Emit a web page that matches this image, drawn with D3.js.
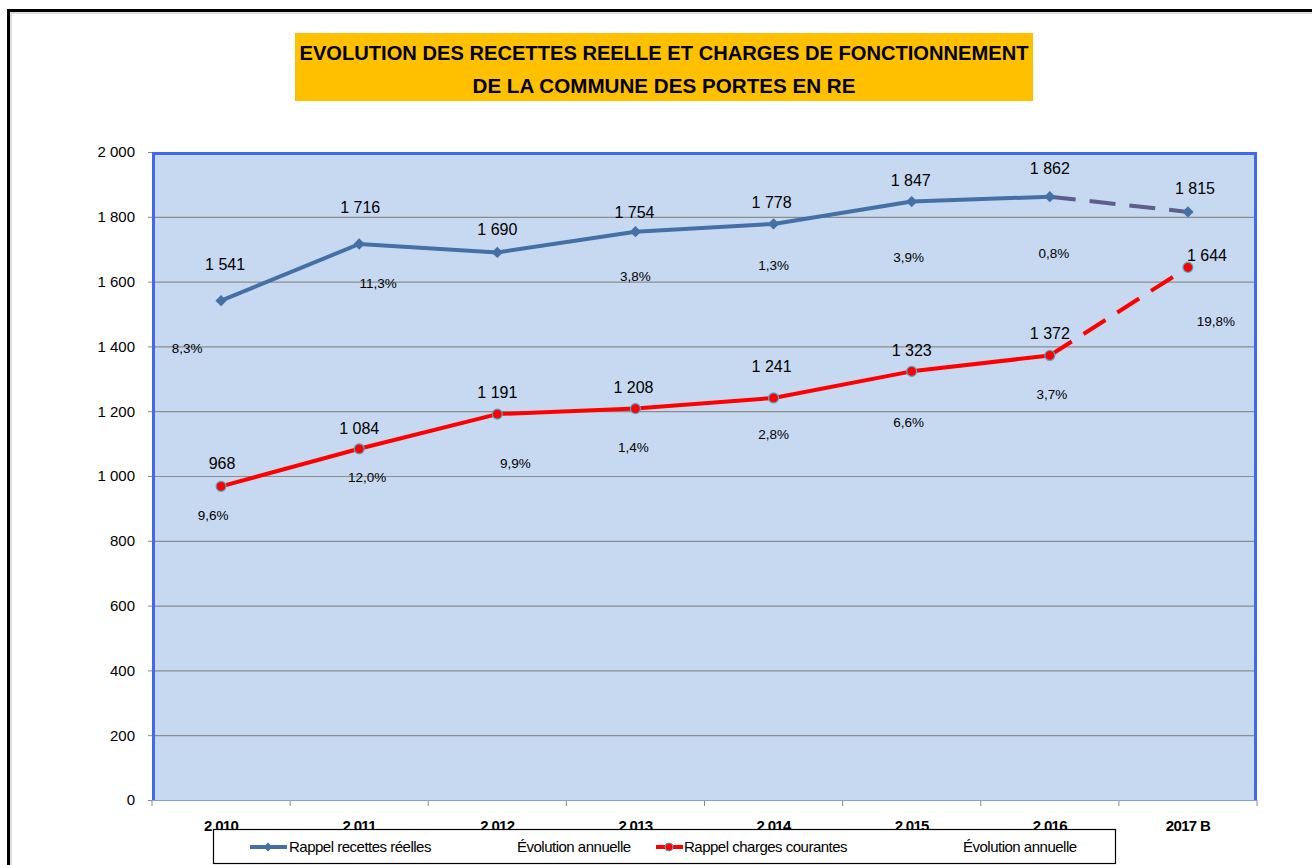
<!DOCTYPE html>
<html><head><meta charset="utf-8">
<script src="https://cdn.jsdelivr.net/npm/d3@7"></script>
<style>body{margin:0;background:#fff}svg{display:block}</style>
</head><body>
<script>
const categories = ["2 010","2 011","2 012","2 013","2 014","2 015","2 016","2017 B"];
const recettes = [1541,1716,1690,1754,1778,1847,1862,1815];
const charges = [968,1084,1191,1208,1241,1323,1372,1644];
const recettesEvol = ["8,3%","11,3%","","3,8%","1,3%","3,9%","0,8%",""];
const chargesEvol = ["9,6%","12,0%","9,9%","1,4%","2,8%","6,6%","3,7%","19,8%"];
// hidden placement values (data units) of the "Évolution annuelle" labels
const recettesEvolPos = [1395,1596,null,1617,1651,1676,1688,null];
const chargesEvolPos = [880,997,1040,1090,1130,1167,1253,1478];
const yTicks = [0,200,400,600,800,1000,1200,1400,1600,1800,2000];
const titleLines = ["EVOLUTION DES RECETTES REELLE ET CHARGES DE FONCTIONNEMENT","DE LA COMMUNE DES PORTES EN RE"];
const legendItems = ["Rappel recettes réelles","Évolution annuelle","Rappel charges courantes","Évolution annuelle"];

const W=1312,H=865;
const svg=d3.select("body").append("svg").attr("width",W).attr("height",H)
  .attr("font-family","'Liberation Sans',Arial,sans-serif");
// outer frame
svg.append("rect").attr("x",8.5).attr("y",10.5).attr("width",1400).attr("height",1000).attr("fill","none").attr("stroke","#000").attr("stroke-width",3);
svg.append("rect").attr("x",11).attr("y",13).attr("width",1400).attr("height",1000).attr("fill","none").attr("stroke","#bbb").attr("stroke-width",1);

// title
svg.append("rect").attr("x",295).attr("y",33).attr("width",738).attr("height",68).attr("fill","#FFC000");
const tl=[{t:titleLines[0],y:60,w:729},{t:titleLines[1],y:93,w:383}];
tl.forEach(d=>svg.append("text").attr("x",664).attr("y",d.y).attr("text-anchor","middle")
  .attr("font-weight","bold").attr("font-size",21).attr("textLength",d.w).attr("lengthAdjust","spacingAndGlyphs").text(d.t));

const L=152,R=1257,T=152,B=800;
const x=d3.scaleBand().domain(categories).range([L,R]);
const y=d3.scaleLinear().domain([0,2000]).range([B,T]);
const cx=i=>x(categories[i])+x.bandwidth()/2;

svg.append("rect").attr("x",L).attr("y",T).attr("width",R-L).attr("height",B-T).attr("fill","#C6D9F1");
// gridlines
svg.append("g").selectAll("line").data(yTicks.filter(v=>v>0&&v<2000)).join("line")
  .attr("x1",L).attr("x2",R).attr("y1",d=>y(d)+0.5).attr("y2",d=>y(d)+0.5).attr("stroke","#8C8C8C").attr("stroke-width",1.2);

// axes
const ya=svg.append("g").attr("transform",`translate(${L},0)`)
  .call(d3.axisLeft(y).tickValues(yTicks).tickSize(4).tickFormat(d=>d3.format(",")(d).replace(/,/g," ")));
ya.select(".domain").remove();
ya.selectAll("line").attr("stroke","#888");
ya.selectAll("text").attr("font-size",15).attr("fill","#000").attr("x",-17).attr("font-family","'Liberation Sans',Arial,sans-serif");

const xa=svg.append("g").attr("transform",`translate(0,${B})`);
xa.selectAll("line").data(d3.range(categories.length+1)).join("line")
  .attr("x1",i=>L+i*x.bandwidth()).attr("x2",i=>L+i*x.bandwidth()).attr("y1",0).attr("y2",6).attr("stroke","#888");
xa.selectAll("text").data(categories).join("text").attr("x",d=>x(d)+x.bandwidth()/2).attr("y",31)
  .attr("text-anchor","middle").attr("font-weight","bold").attr("font-size",15).attr("letter-spacing",-0.7).text(d=>d);

// plot border
svg.append("line").attr("x1",L).attr("x2",R).attr("y1",B+0.5).attr("y2",B+0.5).attr("stroke","#7E9EF2").attr("stroke-width",1);
svg.append("path").attr("d",`M${L+1.5},${B}V${T+1.5}H${R-1.5}V${B}`).attr("fill","none").attr("stroke","#3F6AF0").attr("stroke-width",3);

// lines
const line=d3.line().x(d=>cx(d.i)).y(d=>y(d.v));
function drawSeries(vals,color,dashColor,w){
  const pts=vals.map((v,i)=>({v,i}));
  svg.append("path").attr("d",line(pts.slice(0,7))).attr("fill","none").attr("stroke",color).attr("stroke-width",w).attr("stroke-linejoin","round");
  svg.append("path").attr("d",line(pts.slice(6))).attr("fill","none").attr("stroke",dashColor).attr("stroke-width",w).attr("stroke-dasharray","26,14");
  return pts;
}
const rp=drawSeries(recettes,"#4470A6","#5F5C8E",4);
const cp=drawSeries(charges,"#FF0000","#FF0000",4);
svg.append("g").selectAll("path").data(rp).join("path")
  .attr("d",d3.symbol(d3.symbolSquare,64)).attr("transform",d=>`translate(${cx(d.i)},${y(d.v)}) rotate(45)`).attr("fill","#4470A6");
svg.append("g").selectAll("circle").data(cp).join("circle")
  .attr("cx",d=>cx(d.i)).attr("cy",d=>y(d.v)).attr("r",5).attr("fill","#FF0000").attr("stroke","#4BACC6").attr("stroke-width",1.2);

// value labels
const fmt=v=>d3.format(",")(v).replace(/,/g," ");
const rOff=[-37,-37,-23,-20,-22,-22,-29,-24];
const rDx=[4,1,0,-1,-2,-1,0,7];
const cOff=[-23,-21,-22,-22,-32,-21,-22,-12];
const cDx=[1,0,0,-2,-2,0,0,19];
svg.append("g").selectAll("text").data(rp).join("text").attr("x",d=>cx(d.i)+rDx[d.i]).attr("y",d=>y(d.v)+rOff[d.i]+6)
  .attr("text-anchor","middle").attr("font-size",16).text(d=>fmt(d.v));
svg.append("g").selectAll("text").data(cp).join("text").attr("x",d=>cx(d.i)+cDx[d.i]).attr("y",d=>y(d.v)+cOff[d.i]+6)
  .attr("text-anchor","middle").attr("font-size",16).text(d=>fmt(d.v));

// evolution labels
const reDx=[-34,19,0,0,0,-3,4,0];
const ceDx=[-8,8,18,-2,0,-3,2,28];
svg.append("g").selectAll("text").data(recettesEvol.map((t,i)=>({t,i})).filter(d=>d.t)).join("text")
  .attr("x",d=>cx(d.i)+reDx[d.i]).attr("y",d=>y(recettesEvolPos[d.i])+5).attr("text-anchor","middle")
  .attr("font-size",13.5).text(d=>d.t);
svg.append("g").selectAll("text").data(chargesEvol.map((t,i)=>({t,i})).filter(d=>d.t)).join("text")
  .attr("x",d=>cx(d.i)+ceDx[d.i]).attr("y",d=>y(chargesEvolPos[d.i])+5).attr("text-anchor","middle")
  .attr("font-size",13.5).text(d=>d.t);

// legend
const lg=svg.append("g");
lg.append("rect").attr("x",213.5).attr("y",829.5).attr("width",902).attr("height",34).attr("fill","#fff").attr("stroke","#000").attr("stroke-width",1.2);
const ly=847;
lg.append("line").attr("x1",250).attr("x2",287).attr("y1",ly).attr("y2",ly).attr("stroke","#4470A6").attr("stroke-width",4);
lg.append("path").attr("d",d3.symbol(d3.symbolSquare,40)).attr("transform",`translate(268,${ly}) rotate(45)`).attr("fill","#4470A6");
lg.append("line").attr("x1",656).attr("x2",683).attr("y1",ly).attr("y2",ly).attr("stroke","#FF0000").attr("stroke-width",4);
lg.append("circle").attr("cx",669).attr("cy",ly).attr("r",4).attr("fill","#FF0000").attr("stroke","#4BACC6");
const lx=[289,517,684,963];
lg.selectAll("text").data(legendItems).join("text").attr("x",(d,i)=>lx[i]).attr("y",ly+5)
  .attr("font-size",15).attr("letter-spacing",-0.5).text(d=>d);
</script>
</body></html>
